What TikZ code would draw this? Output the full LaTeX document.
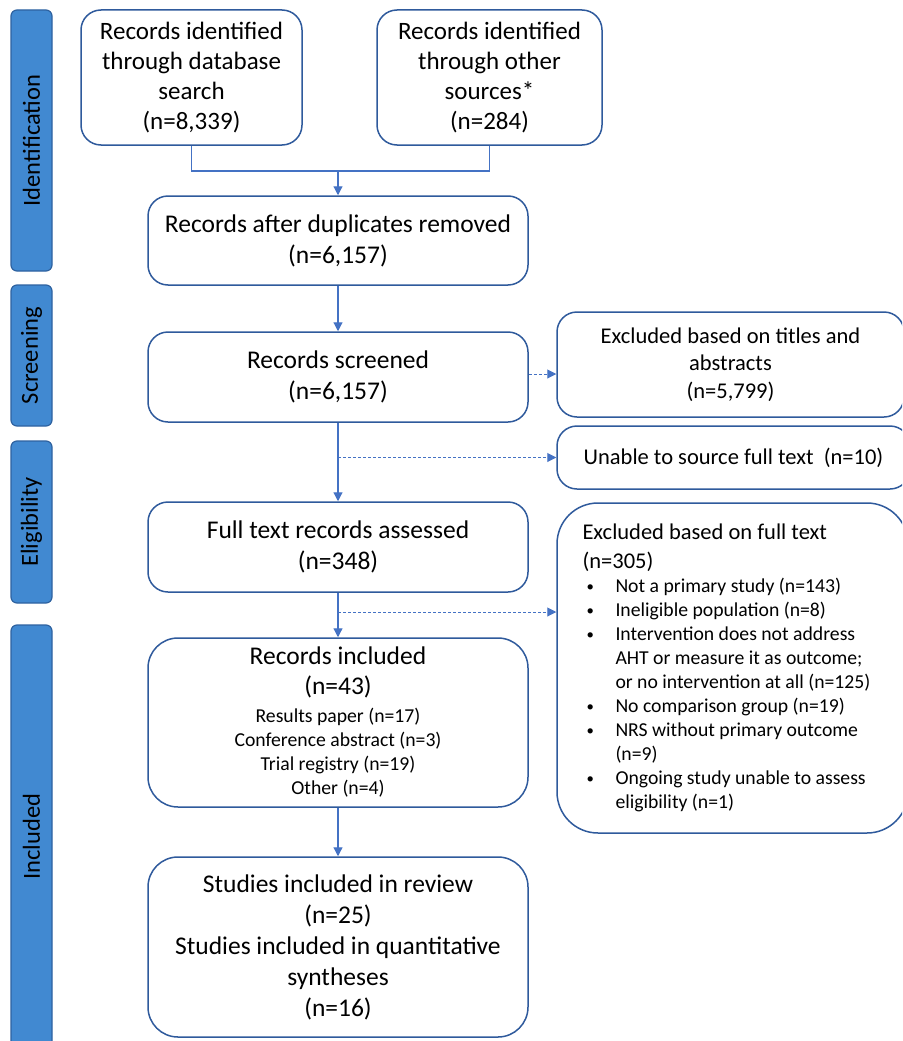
\documentclass[tikz,border=0pt]{standalone}
\usepackage{fontspec}
\setmainfont{Carlito}
\usetikzlibrary{arrows.meta,calc}
\definecolor{boxc}{HTML}{2F5A9C}
\definecolor{arrc}{HTML}{4472C4}
\definecolor{phasef}{HTML}{4189D1}
\definecolor{phaseb}{HTML}{2E62A0}
\newcommand{\mybul}{\hspace*{4pt}\makebox[29pt][l]{\raisebox{1pt}{\scalebox{0.75}{\textbullet}}}}
\tikzset{
  box/.style={draw=boxc, line width=1.5pt, rounded corners=20pt, inner sep=0pt, align=center,
    font=\fontsize{25.5}{31}\selectfont},
  phasebar/.style={draw=phaseb, fill=phasef, line width=1.2pt, rounded corners=6pt,
    minimum width=41pt, inner sep=0pt},
  phaselabel/.style={rotate=90, inner sep=0pt, font=\fontsize{24.5}{28}\selectfont},
  arr/.style={draw=arrc, line width=1.2pt, -{Triangle[width=9pt,length=9pt]}},
  darr/.style={draw=arrc, line width=1pt, dash pattern=on 3pt off 2pt, -{Triangle[width=9pt,length=9pt]}},
  conn/.style={draw=arrc, line width=1.2pt}
}
\begin{document}
\begin{tikzpicture}[x=1pt,y=-1pt]
\clip (0,0) rectangle (902,1041);
\fill[white] (0,0) rectangle (902,1041);
% phase bars
\node[phasebar, minimum height=261pt] (idbar) at (31.5,140.5) {};
\node[phaselabel] (idlabel) at (idbar.center) {Identification};
\node[phasebar, minimum height=141pt] (scbar) at (31.5,355.5) {};
\node[phaselabel] (sclabel) at (scbar.center) {Screening};
\node[phasebar, minimum height=162pt] (elbar) at (31.5,522) {};
\node[phaselabel] (ellabel) at (elbar.center) {Eligibility};
\node[phasebar, minimum height=423pt] (inbar) at (31.5,836.5) {};
\node[phaselabel] (inlabel) at (inbar.center) {Included};
% boxes
\node[box, minimum width=221pt, minimum height=135pt, font=\fontsize{25}{30}\selectfont] (box1) at (191.5,77.5)
  {Records identified\\through database\\search\\(n=8,339)};
\node[box, minimum width=225pt, minimum height=135pt, font=\fontsize{25}{30}\selectfont] (box2) at (489.5,77.5)
  {Records identified\\through other\\sources*\\(n=284)};
\node[box, minimum width=380pt, minimum height=89pt] (box3) at (338,240.5)
  {Records after duplicates removed\\(n=6,157)};
\node[box, minimum width=380pt, minimum height=90pt] (box4) at (338,377)
  {Records screened\\(n=6,157)};
\node[box, minimum width=347pt, minimum height=105pt, font=\fontsize{22.5}{27.5}\selectfont] (box5) at (730.5,364.5)
  {Excluded based on titles and\\abstracts\\(n=5,799)};
\node[box, minimum width=353pt, minimum height=63pt, font=\fontsize{22.5}{27.5}\selectfont] (box6) at (733.5,457.5)
  {Unable to source full text\ \ (n=10)};
\node[box, minimum width=380pt, minimum height=90pt] (box7) at (338,547)
  {Full text records assessed\\(n=348)};
\node[box, minimum width=351pt, minimum height=330pt, rounded corners=41pt] (box8) at (732.5,668)
  {\begin{minipage}{300pt}\raggedright
   {\fontsize{22.5}{29}\selectfont Excluded based on full text\\(n=305)\par}
   \fontsize{19.7}{24}\selectfont
   \mybul Not a primary study (n=143)\\
   \mybul Ineligible population (n=8)\\
   \mybul Intervention does not address\\
   \hspace*{33pt}AHT or measure it as outcome;\\
   \hspace*{33pt}or no intervention at all (n=125)\\
   \mybul No comparison group (n=19)\\
   \mybul NRS without primary outcome\\
   \hspace*{33pt}(n=9)\\
   \mybul Ongoing study unable to assess\\
   \hspace*{33pt}eligibility (n=1)\par
   \end{minipage}};
\node[box, minimum width=380pt, minimum height=169pt, rounded corners=30pt] (box9) at (338,722.5)
  {\begin{minipage}{370pt}\centering
   {\fontsize{25.5}{30}\selectfont Records included\\(n=43)\par}
   \vspace{4pt}
   \fontsize{19.7}{24}\selectfont Results paper (n=17)\\Conference abstract (n=3)\\Trial registry (n=19)\\Other (n=4)\par
   \end{minipage}};
\node[box, minimum width=380pt, minimum height=180pt, rounded corners=30pt] (box10) at (338,947)
  {Studies included in review\\(n=25)\\Studies included in quantitative\\syntheses\\(n=16)};
% connectors
\coordinate (j) at (338,171);
\draw[conn] (box1.south) |- (j) -| (box2.south);
\draw[arr] (j) -- (box3.north);
\draw[arr] (box3.south) -- (box4.north);
\draw[arr] (box4.south) -- (box7.north);
\draw[arr] (box7.south) -- (box9.north);
\draw[arr] (box9.south) -- (box10.north);
\coordinate (c1) at (box4.east |- 0,374);
\draw[darr] (c1) -- (c1 -| box5.west);
\coordinate (c2) at (338,457.5);
\draw[darr] (c2) -- (c2 -| box6.west);
\coordinate (c3) at (338,612);
\draw[darr] (c3) -- (c3 -| box8.west);
\end{tikzpicture}
\end{document}
